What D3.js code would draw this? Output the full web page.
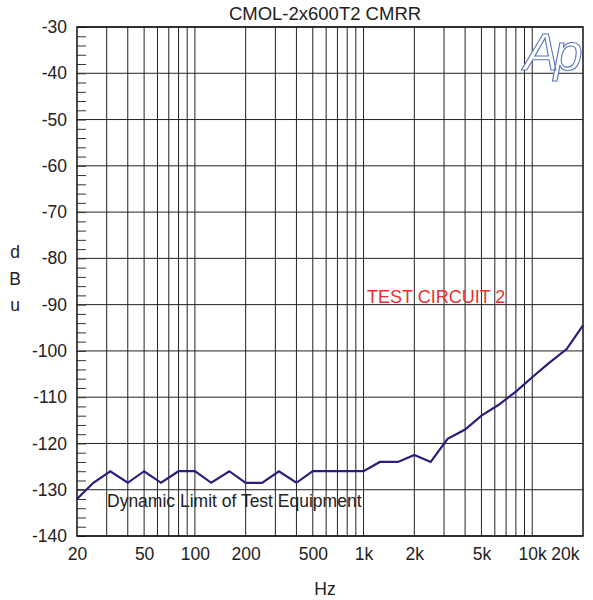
<!DOCTYPE html>
<html>
<head>
<meta charset="utf-8">
<script src="https://cdn.jsdelivr.net/npm/d3@7"></script>
<style>
  body { margin: 0; background: #fff; }
  svg text { font-family: "Liberation Sans", Arial, sans-serif; }
</style>
</head>
<body>
<svg id="chart" width="593" height="600"></svg>
<script>
// 1/3 octave measurement points
var freqs = [20, 25, 31.5, 40, 50, 63, 80, 100, 125, 160, 200, 250, 315, 400, 500, 630, 800,
             1000, 1250, 1600, 2000, 2500, 3150, 4000, 5000, 6300, 8000, 10000, 12500, 16000, 20000];
var cmrr = [-132, -128.5, -126, -128.5, -126, -128.5, -126, -126, -128.5, -126, -128.5, -128.5, -126,
            -128.5, -126, -126, -126, -126, -124, -124, -122.5, -124, -119, -117, -114, -111.7,
            -108.8, -105.7, -102.7, -99.6, -94.5];

var yTicks = [-30, -40, -50, -60, -70, -80, -90, -100, -110, -120, -130, -140];
var xTickVals = [20, 50, 100, 200, 500, 1000, 2000, 5000, 10000, 20000];
var xTickLabels = ['20', '50', '100', '200', '500', '1k', '2k', '5k', '10k', '20k'];
var gridFreqs = [30, 40, 50, 60, 70, 80, 90, 100, 200, 300, 400, 500, 600, 700, 800, 900,
                 1000, 2000, 3000, 4000, 5000, 6000, 7000, 8000, 9000, 10000];

var svg = d3.select('#chart');
var plotL = 77, plotR = 583, plotT = 27, plotB = 536;

var x = d3.scaleLog().domain([20, 20000]).range([plotL, plotR]);
var y = d3.scaleLinear().domain([-140, -30]).range([plotB, plotT]);

// grid
svg.append('g').selectAll('line')
    .data(gridFreqs)
    .enter().append('line')
    .attr('x1', function(d) { return x(d); })
    .attr('x2', function(d) { return x(d); })
    .attr('y1', plotT).attr('y2', plotB)
    .attr('stroke', '#222').attr('stroke-width', 1);

svg.append('g').selectAll('line')
    .data(yTicks)
    .enter().append('line')
    .attr('x1', plotL).attr('x2', plotR)
    .attr('y1', function(d) { return y(d); })
    .attr('y2', function(d) { return y(d); })
    .attr('stroke', '#222').attr('stroke-width', 1);

// minor ticks on left, every 2 dB
svg.append('g')
    .attr('transform', 'translate(' + plotL + ',0)')
    .call(d3.axisLeft(y).tickValues(d3.range(-140, -29, 2)).tickSize(-9).tickFormat(''))
    .call(function(g) { g.select('.domain').remove(); })
    .selectAll('line').attr('stroke', '#333');

// frame
svg.append('rect')
    .attr('x', plotL).attr('y', plotT)
    .attr('width', plotR - plotL).attr('height', plotB - plotT)
    .attr('fill', 'none').attr('stroke', '#111').attr('stroke-width', 1.5);

// y labels (plain hyphen, not unicode minus)
var yAxis = svg.append('g')
    .attr('transform', 'translate(' + plotL + ',0)')
    .call(d3.axisLeft(y).tickValues(yTicks).tickSize(0).tickPadding(10)
        .tickFormat(function(d) { return String(d); }));
yAxis.select('.domain').remove();
yAxis.selectAll('text')
    .style('font-size', '17.5px').attr('fill', '#222')
    .style('font-family', '"Liberation Sans", Arial, sans-serif');

// x labels
var xAxis = svg.append('g')
    .attr('transform', 'translate(0,' + plotB + ')')
    .call(d3.axisBottom(x).tickValues(xTickVals).tickSize(0).tickPadding(12)
        .tickFormat(function(d, i) { return xTickLabels[i]; }));
xAxis.select('.domain').remove();
xAxis.selectAll('text')
    .style('font-size', '17.5px').attr('fill', '#222')
    .style('font-family', '"Liberation Sans", Arial, sans-serif')
    .filter(function(d) { return d === 20000; })
    .attr('text-anchor', 'end').attr('dx', -4);

// data line
var line = d3.line()
    .x(function(d, i) { return x(freqs[i]); })
    .y(function(d) { return y(d); });

svg.append('path')
    .datum(cmrr)
    .attr('d', line)
    .attr('fill', 'none')
    .attr('stroke', '#2b1d7a')
    .attr('stroke-width', 2.2)
    .attr('stroke-linejoin', 'miter');

// title and axis titles
svg.append('text')
    .attr('x', 325).attr('y', 20)
    .attr('text-anchor', 'middle')
    .style('font-size', '18.5px').attr('fill', '#222')
    .text('CMOL-2x600T2 CMRR');

svg.append('text')
    .attr('x', 325).attr('y', 595)
    .attr('text-anchor', 'middle')
    .style('font-size', '17.5px').attr('fill', '#222')
    .text('Hz');

svg.selectAll('.ulabel')
    .data(['d', 'B', 'u'])
    .enter().append('text')
    .attr('class', 'ulabel')
    .attr('x', 15)
    .attr('y', function(d, i) { return 258 + i * 26.5; })
    .attr('text-anchor', 'middle')
    .style('font-size', '17.5px').attr('fill', '#222')
    .text(function(d) { return d; });

// annotations
svg.append('text')
    .attr('x', 367).attr('y', 303)
    .style('font-size', '18px').attr('fill', '#e8302c')
    .text('TEST CIRCUIT 2');

svg.append('text')
    .attr('x', 107).attr('y', 507)
    .style('font-size', '17.5px').attr('fill', '#222')
    .text('Dynamic Limit of Test Equipment');

// Ap logo
svg.append('text')
    .attr('x', 524).attr('y', 70)
    .style('font-size', '52px')
    .style('font-style', 'italic')
    .style('letter-spacing', '-5px')
    .attr('fill', '#fff')
    .attr('stroke', '#5a74c0')
    .attr('stroke-width', 1.1)
    .text('Ap');
</script>
</body>
</html>
